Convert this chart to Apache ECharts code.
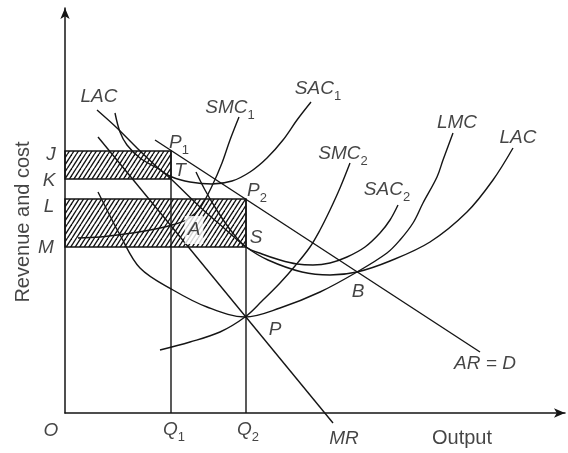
<!DOCTYPE html>
<html><head><meta charset="utf-8">
<script src="https://cdn.jsdelivr.net/npm/echarts@6/dist/echarts.min.js"></script>
<style>html,body{margin:0;padding:0;background:#fff}#c{width:568px;height:453px}</style>
</head><body><div id="c"></div>
<script>
// ---- data (output on x, revenue/cost on y) ----
const arD  = [[90,273],[415,61]];
const mr   = [[33,276],[268,-10]];
const lac  = [[32,303],[52,285],[72,265],[92,246],[106,234],[135,206],[160,184],[181,166],[203,153],[237,141],[265,138],[292,141],[325,152],[365,171],[402,201],[428,233],[448,265]];
const lmc  = [[33,221],[43,201],[55,178],[75,145],[108,123],[142,106],[180,96],[215,105],[255,121],[292,141],[322,160],[335,173],[348,190],[358,210],[372,236],[378,253],[388,280]];
const sac1 = [[50,300],[55,281],[62,268],[75,255],[92,245],[107,236],[125,231],[147,229],[167,232],[185,241],[202,255],[218,273],[232,293],[246,311]];
const smc1 = [[13,175],[35,176],[60,179],[85,183],[107,188],[123,194],[135,205],[147,227],[157,250],[165,273],[174,296]];
const sac2 = [[131,241],[140,223],[153,201],[167,181],[181,166],[197,159],[215,153],[232,149],[248,148],[265,150],[282,156],[300,166],[315,180],[325,193],[333,208]];
const smc2 = [[95,63],[125,71],[155,81],[180,96],[197,112],[215,130],[230,147],[245,166],[255,183],[265,203],[275,225],[285,250]];
const outputs     = [106, 181];   // Q1, Q2
const priceLevels = [262, 214];   // J, L  (AR at Q1, Q2)
const costLevels  = [234, 166];   // K, M  (average cost at Q1, Q2)

// ---- annotation text and anchors ----
const annotations = [
  ['LAC',34,316],['SMC_1',165,305],['SAC_1',253,324],['SMC_2',278,259],['SAC_2',322,223],
  ['LMC',392,290],['LAC',453,275],['P_1',114,270],['T',115,242],['P_2',192,222],
  ['A',129,183],['S',191,175],['B',293,121],['P',210,83],['AR = D',420,49],
  ['J',-14,258],['K',-16,232],['L',-16,206],['M',-19,165],
  ['O',-14,-18],['Q_1',109,-17],['Q_2',183,-17],['MR',279,-26],['Output',397,-25],['Revenue and cost',-42,191]
];

const INK = '#151515';
const FONT = '"Liberation Sans", Arial, sans-serif';

function hatchCanvas(){
  const c = document.createElement('canvas'); c.width = 9; c.height = 14;
  const g = c.getContext('2d'); g.strokeStyle = '#111'; g.lineWidth = 1.35;
  for (const x0 of [-9,-4.5,0,4.5,9]) { g.beginPath(); g.moveTo(x0,14); g.lineTo(x0+9,0); g.stroke(); }
  return c;
}
const hatch = {image: hatchCanvas(), repeat: 'repeat'};

function curve(name, data){
  return {type:'line', name, data, smooth:0.35, showSymbol:false, clip:false, silent:true,
    lineStyle:{color:INK, width:1.4}, z:3};
}

const series = [
  {type:'custom', silent:true, z:1, clip:false,
   data: outputs.map((q,i)=>[q, priceLevels[i], costLevels[i]]),
   encode:{x:0, y:[1,2]},
   renderItem(params, api){
     const a = api.coord([0, api.value(1)]);
     const b = api.coord([api.value(0), api.value(2)]);
     return {type:'rect', shape:{x:a[0], y:a[1], width:b[0]-a[0], height:b[1]-a[1]},
       style:{fill:hatch, stroke:INK, lineWidth:1.5}};
   }},
  curve('AR = D', arD), curve('MR', mr), curve('LAC', lac), curve('LMC', lmc),
  curve('SAC1', sac1), curve('SMC1', smc1), curve('SAC2', sac2), curve('SMC2', smc2),
];
outputs.forEach((q,i)=>{
  series.push({type:'line', data:[[q,0],[q,priceLevels[i]]], showSymbol:false, silent:true,
    lineStyle:{color:INK, width:1.4}, z:2});
});

function fmt(p){
  const t = p.name;
  if (t === 'Output' || t === 'Revenue and cost') return '{u|' + t + '}';
  const k = t.indexOf('_');
  if (k < 0) return '{m|' + t + '}';
  return '{m|' + t.slice(0,k) + '}{s|' + t.slice(k+1) + '}';
}

series.push({type:'scatter', symbolSize:1, clip:false, silent:true, z:5,
  itemStyle:{color:'rgba(0,0,0,0)'},
  data: annotations.map(a=>{
    const d = {name:a[0], value:[a[1],a[2]]};
    if (a[0] === 'Revenue and cost') d.label = {rotate:90};
    if (a[0] === 'A') d.label = {backgroundColor:'#fff', padding:[0,3,0,3]};
    return d;
  }),
  label:{show:true, position:'inside', formatter:fmt,
    rich:{
      m:{fontFamily:FONT, fontSize:19, fontStyle:'italic', color:INK, lineHeight:28},
      s:{fontFamily:FONT, fontSize:13, color:INK, lineHeight:14, verticalAlign:'bottom'},
      u:{fontFamily:FONT, fontSize:20, color:INK, lineHeight:24}
    }}
});

const axisCommon = {type:'value', axisTick:{show:false}, axisLabel:{show:false}, splitLine:{show:false},
  axisLine:{show:true, symbol:['none','arrow'], symbolSize:[7,11], lineStyle:{color:INK, width:1.5}}};

const chart = echarts.init(document.getElementById('c'), null, {renderer:'canvas'});
chart.setOption({
  animation:false,
  backgroundColor:'#fff',
  grid:{left:65, right:3, top:8, bottom:40},
  xAxis:Object.assign({min:0, max:500}, axisCommon),
  yAxis:Object.assign({min:0, max:405}, axisCommon),
  series
});
</script></body></html>
